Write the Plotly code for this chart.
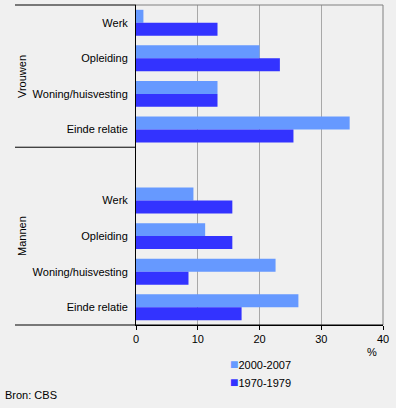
import plotly.graph_objects as go

categories = ["Werk", "Opleiding", "Woning/huisvesting", "Einde relatie"]
groups = ["Vrouwen", "Mannen"]
series_names = ["2000-2007", "1970-1979"]
vrouwen_2000 = [1.2, 20.0, 13.2, 34.6]
vrouwen_1970 = [13.2, 23.3, 13.2, 25.5]
mannen_2000 = [9.3, 11.2, 22.6, 26.3]
mannen_1970 = [15.6, 15.6, 8.5, 17.1]
x_ticks = [0, 10, 20, 30, 40]
colors = ["#6699ff", "#3333ff"]

# y slots: women 0..3, an empty slot 4, men 5..8
n = len(categories)
y_women = list(range(n))
y_men = [n + 1 + i for i in range(n)]
y_pos = y_women + y_men
y_text = categories + categories

fig = go.Figure()
fig.add_trace(go.Bar(name=series_names[0], orientation="h", y=y_pos,
                     x=vrouwen_2000 + mannen_2000, marker_color=colors[0],
                     marker_line_width=0, showlegend=False))
fig.add_trace(go.Bar(name=series_names[1], orientation="h", y=y_pos,
                     x=vrouwen_1970 + mannen_1970, marker_color=colors[1],
                     marker_line_width=0, showlegend=False))

W, H = 396, 408
L, R, T, B = 136, 13, 5, 83
pw, ph = W - L - R, H - T - B

def px_x(p):
    return (p - L) / pw

def px_y(p):
    return (H - B - p) / ph

font = dict(family="Liberation Sans, Arial, sans-serif", size=11, color="black")

fig.update_layout(
    width=W, height=H,
    margin=dict(l=L, r=R, t=T, b=B, pad=0, autoexpand=False),
    paper_bgcolor="#f0f0f0", plot_bgcolor="#f0f0f0",
    barmode="group", bargap=0.27, bargroupgap=0,
    font=font,
    xaxis=dict(range=[0, 40], tickvals=x_ticks, ticktext=[str(v) for v in x_ticks],
               showgrid=True, gridcolor="#a8a8a8", gridwidth=1, automargin=False,
               zeroline=False, showline=True, linecolor="black", linewidth=1,
               ticks="outside", ticklen=4, tickcolor="black", tickfont=font),
    yaxis=dict(range=[len(y_pos) + 0.5, -0.5], tickvals=y_pos, ticktext=y_text,
               showgrid=False, zeroline=False, showline=True, linecolor="black",
               linewidth=1, ticks="", ticklabelstandoff=5, tickfont=font, automargin=False),
)

shapes = []
# gray frame top and right
shapes.append(dict(type="line", xref="paper", yref="paper", x0=0, x1=1, y0=1, y1=1,
                   line=dict(color="#808080", width=1)))
shapes.append(dict(type="line", xref="paper", yref="paper", x0=1, x1=1, y0=0, y1=1,
                   line=dict(color="#808080", width=1)))
# black group lines on the left
xl = px_x(15)
shapes.append(dict(type="line", xref="paper", yref="paper", x0=xl, x1=0, y0=1, y1=1,
                   line=dict(color="black", width=1)))
shapes.append(dict(type="line", xref="paper", yref="y", x0=xl, x1=0, y0=n - 0.5, y1=n - 0.5,
                   line=dict(color="black", width=1)))
shapes.append(dict(type="line", xref="paper", yref="paper", x0=xl, x1=1, y0=0, y1=0,
                   line=dict(color="black", width=1)))
fig.update_layout(shapes=shapes)

ann = []
ann.append(dict(text=groups[0], xref="paper", yref="paper", x=px_x(22), y=px_y(77),
                textangle=-90, showarrow=False, font=font, xanchor="center", yanchor="middle"))
ann.append(dict(text=groups[1], xref="paper", yref="paper", x=px_x(22), y=px_y(236),
                textangle=-90, showarrow=False, font=font, xanchor="center", yanchor="middle"))
ann.append(dict(text="%", xref="paper", yref="paper", x=px_x(372), y=px_y(352),
                showarrow=False, font=font, xanchor="center", yanchor="middle"))
for i, (name, c) in enumerate(zip(series_names, colors)):
    ann.append(dict(text=f"<span style='color:{c};font-size:14px'>■</span>{name}",
                    xref="paper", yref="paper",
                    x=px_x(228), y=px_y(364 + 18 * i), showarrow=False, font=font,
                    xanchor="left", yanchor="middle"))
ann.append(dict(text="Bron: CBS", xref="paper", yref="paper", x=px_x(3), y=px_y(395),
                showarrow=False, font=font, xanchor="left", yanchor="middle"))
fig.update_layout(annotations=ann)

fig.write_html("out.html", config={"displayModeBar": False},
               post_script="document.body.style.margin='0';document.body.style.padding='0';")
